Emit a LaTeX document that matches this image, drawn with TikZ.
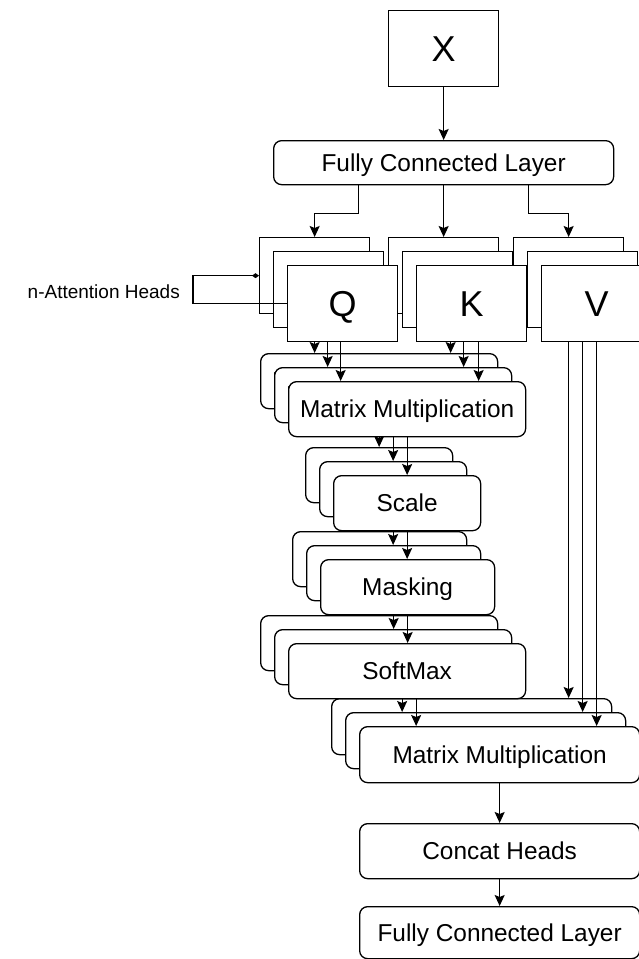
\documentclass[tikz,border=0pt]{standalone}
\usepackage{fontspec}
\setmainfont{Liberation Sans}
\usetikzlibrary{arrows.meta,calc}
\begin{document}
\begin{tikzpicture}[x=1pt,y=-1pt,
  box/.style={draw, line width=1.3pt, fill=white, inner sep=0pt, anchor=north west},
  rbox/.style={box, rounded corners=8pt, font=\fontsize{24.4}{29}\selectfont, text height=17.5pt, text depth=0pt},
  sq/.style={box, minimum width=110, minimum height=76, font=\fontsize{36}{40}\selectfont, text height=25.8pt, text depth=0pt},
  mm1/.style={rbox, minimum width=237, minimum height=55},
  scl/.style={rbox, minimum width=147, minimum height=55},
  msk/.style={rbox, minimum width=174, minimum height=55},
  mm2/.style={rbox, minimum width=280, minimum height=56},
  arr/.style={line width=1.3pt, -{Stealth[length=11pt,width=10pt,inset=2pt]}},
  hd/.style={line width=1.3pt, -{Diamond[length=7pt,width=5pt]}},
  lbl/.style={font=\fontsize{19}{23}\selectfont, inner sep=0pt}
]
\useasboundingbox (0,0) rectangle (639,959);

% top
\node[sq] (x) at (388,10) {X};
\node[rbox, minimum width=340, minimum height=44] (fc1) at (273,140) {Fully Connected Layer};
\draw[arr] (x.south) -- (fc1.north);

% ---------------- layer 1
\node[sq] (q1) at (259,237) {};
\node[sq] (k1) at (388,237) {};
\node[sq] (v1) at (513,237) {};
\draw[arr] ([xshift=-85pt]fc1.south) -- ++(0,28) -| (q1.north);
\draw[arr] (fc1.south) -- (k1.north);
\draw[arr] ([xshift=85pt]fc1.south) -- ++(0,28) -| (v1.north);
\node[mm1] (ma1) at (260,353) {Matrix Multiplication};
\node[scl] (s1) at (305,447) {};
\node[msk] (mk1) at (292,531) {};
\node[mm1] (sm1) at (260,615) {};
\node[mm2] (mb1) at (331,698) {};
\draw[arr] (q1.south) -- (q1.south |- ma1.north);
\draw[arr] ([xshift=7pt]k1.south) -- ([xshift=7pt]k1.south |- ma1.north);
\draw[arr] (ma1.south) -- (ma1.south |- s1.north);
\draw[arr] (s1.south) -- (s1.south |- mk1.north);
\draw[arr] (mk1.south) -- (mk1.south |- sm1.north);
\draw[arr] ([xshift=9pt]sm1.south) -- ([xshift=9pt]sm1.south |- mb1.north);
\draw[arr] (v1.south) -- (v1.south |- mb1.north);

% ---------------- layer 2
\node[sq] (q2) at (273,251) {};
\node[sq] (k2) at (402,251) {};
\node[sq] (v2) at (527,251) {};
\node[mm1] (ma2) at (274,367) {Matrix Multiplication};
\node[scl] (s2) at (319,461) {};
\node[msk] (mk2) at (306,545) {};
\node[mm1] (sm2) at (274,629) {};
\node[mm2] (mb2) at (345,712) {};
\draw[arr] ([xshift=-1pt]q2.south) -- ([xshift=-1pt]q2.south |- ma2.north);
\draw[arr] ([xshift=6pt]k2.south) -- ([xshift=6pt]k2.south |- ma2.north);
\draw[arr] (ma2.south) -- (ma2.south |- s2.north);
\draw[arr] (s2.south) -- (s2.south |- mk2.north);
\draw[arr] (mk2.south) -- (mk2.south |- sm2.north);
\draw[arr] ([xshift=9pt]sm2.south) -- ([xshift=9pt]sm2.south |- mb2.north);
\draw[arr] (v2.south) -- (v2.south |- mb2.north);

% ---------------- layer 3
\node[sq] (q3) at (287,265) {Q};
\node[sq] (k3) at (416,265) {K};
\node[sq] (v3) at (541,265) {V};
\node[mm1] (ma3) at (288,381) {Matrix Multiplication};
\node[scl] (s3) at (333,475) {Scale};
\node[msk] (mk3) at (320,559) {Masking};
\node[mm1] (sm3) at (288,643) {SoftMax};
\node[mm2] (mb3) at (359,726) {Matrix Multiplication};
\draw[arr] ([xshift=-2pt]q3.south) -- ([xshift=-2pt]q3.south |- ma3.north);
\draw[arr] ([xshift=7pt]k3.south) -- ([xshift=7pt]k3.south |- ma3.north);
\draw[arr] (ma3.south) -- (ma3.south |- s3.north);
\draw[arr] (s3.south) -- (s3.south |- mk3.north);
\draw[arr] (mk3.south) -- (mk3.south |- sm3.north);
\draw[arr] ([xshift=9pt]sm3.south) -- ([xshift=9pt]sm3.south |- mb3.north);
\draw[arr] (v3.south) -- (v3.south |- mb3.north);

% bottom
\node[rbox, minimum width=280, minimum height=55] (cat) at (359,823) {Concat Heads};
\node[rbox, minimum width=280, minimum height=52] (fc2) at (359,906) {Fully Connected Layer};
\draw[arr] (mb3.south) -- (cat.north);
\draw[arr] (cat.south) -- (fc2.north);

% heads annotation
\node[lbl, anchor=east] (heads) at (180,292) {n-Attention Heads};
\draw[hd] (q3.west) -- ++(-94,0) |- (q1.west);
\end{tikzpicture}
\end{document}
